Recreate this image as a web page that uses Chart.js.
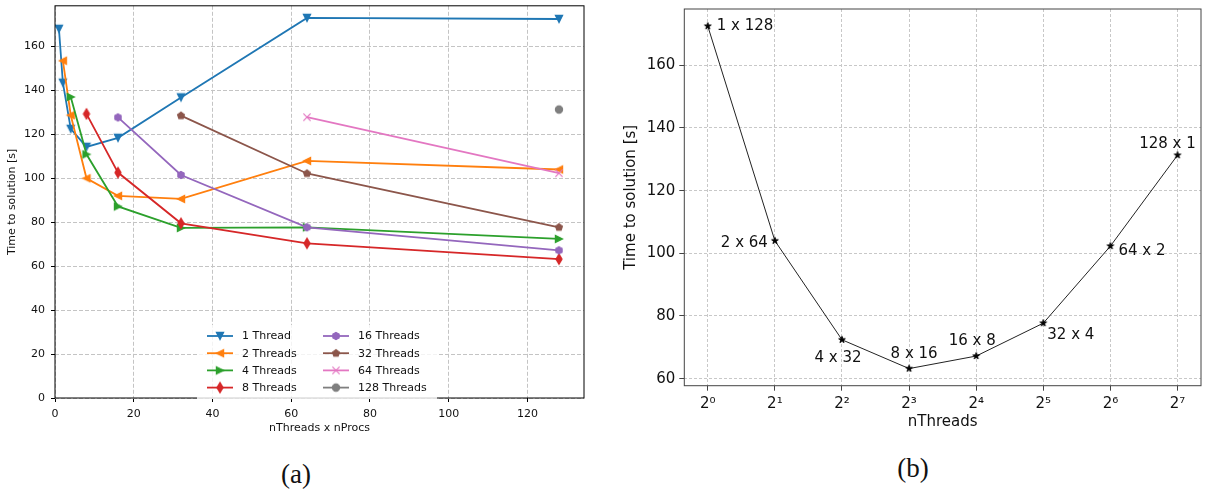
<!DOCTYPE html>
<html>
<head>
<meta charset="utf-8">
<script src="https://cdn.jsdelivr.net/npm/chart.js@4.4.0/dist/chart.umd.min.js"></script>
<style>
  html, body { margin: 0; padding: 0; background: #fff; }
  body { width: 1207px; height: 490px; position: relative; overflow: hidden; }
  #chartA { position: absolute; left: 0; top: 0; }
  #chartB { position: absolute; left: 600px; top: 0; }
  .cap { position: absolute; font-family: "Liberation Serif", serif; font-size: 27px; color: #111;
         transform: translate(-50%, -50%); line-height: 1; }
</style>
</head>
<body>
<canvas id="chartA" width="600" height="445"></canvas>
<canvas id="chartB" width="607" height="445"></canvas>
<div class="cap" style="left:296px; top:474px">(a)</div>
<div class="cap" style="left:913px; top:468px">(b)</div>
<script>
// Temps de calcul selon nThreads x nProcs
const cores = [1, 2, 4, 8, 16, 32, 64, 128];
const threadLabels = ['1 Thread', '2 Threads', '4 Threads', '8 Threads',
                      '16 Threads', '32 Threads', '64 Threads', '128 Threads'];
const time1   = [168, 143.5, 122.5, 114.3, 118.4, 136.8, 173, 172.5];
const time2   = [null, 153.5, 128.7, 100, 92, 90.6, 107.9, 104];
const time4   = [null, null, 137, 110.9, 87.2, 77.4, 77.7, 72.4];
const time8   = [null, null, null, 129.3, 102.6, 79.5, 70.4, 63.2];
const time16  = [null, null, null, null, 127.7, 101.5, 77.7, 67.2];
const time32  = [null, null, null, null, null, 128.5, 102.2, 77.7];
const time64  = [null, null, null, null, null, null, 127.8, 102.3];
const time128 = [null, null, null, null, null, null, null, 131.3];
const xTicksA = [0, 20, 40, 60, 80, 100, 120];
const yTicksA = [0, 20, 40, 60, 80, 100, 120, 140, 160];

// (b) meilleur temps par nombre de threads
const threadCounts = [1, 2, 4, 8, 16, 32, 64, 128];
const bestTimes = [172.5, 104, 72.4, 63.2, 67.2, 77.7, 102.3, 131.3];
const runLabels = ['1 x 128', '2 x 64', '4 x 32', '8 x 16', '16 x 8', '32 x 4', '64 x 2', '128 x 1'];
const xTickLabelsB = ['2\u2070', '2\u00b9', '2\u00b2', '2\u00b3', '2\u2074', '2\u2075', '2\u2076', '2\u2077'];
const yTicksB = [60, 80, 100, 120, 140, 160];

const seriesA = [time1, time2, time4, time8, time16, time32, time64, time128];
const colors = ['#1f77b4', '#ff7f0e', '#2ca02c', '#d62728', '#9467bd', '#8c564b', '#e377c2', '#7f7f7f'];
const markerKinds = ['v', '<', '>', 'd', 'h', 'p', 'x', 'o'];

Chart.defaults.font.family = '"DejaVu Sans", sans-serif';
Chart.defaults.color = '#111';

function polygon(n, r) {
  const pts = [];
  for (let i = 0; i < n; i++) {
    const a = -Math.PI / 2 + i * 2 * Math.PI / n;
    pts.push([r * Math.cos(a), r * Math.sin(a)]);
  }
  return pts;
}

function starPts(r) {
  const pts = [];
  for (let i = 0; i < 10; i++) {
    const a = -Math.PI / 2 + i * Math.PI / 5;
    const rr = i % 2 ? r * 0.381966 : r;
    pts.push([rr * Math.cos(a), rr * Math.sin(a)]);
  }
  return pts;
}

// petits marqueurs façon matplotlib
function makeMarker(kind, color, ms, ew) {
  const size = 2 * Math.ceil(ms + ew + 1);
  const c = document.createElement('canvas');
  c.width = size; c.height = size;
  const g = c.getContext('2d');
  g.translate(size / 2, size / 2);
  g.fillStyle = color; g.strokeStyle = color; g.lineWidth = ew;
  const h = ms / 2;
  let pts = null;
  if (kind === 'v') pts = [[0, h], [-h, -h], [h, -h]];
  else if (kind === '<') pts = [[-h, 0], [h, -h], [h, h]];
  else if (kind === '>') pts = [[h, 0], [-h, -h], [-h, h]];
  else if (kind === 'd') { const r = ms * Math.SQRT1_2; pts = [[0, -r], [0.6 * r, 0], [0, r], [-0.6 * r, 0]]; }
  else if (kind === 'h') pts = polygon(6, h);
  else if (kind === 'p') pts = polygon(5, h);
  else if (kind === '*') pts = starPts(h);
  if (pts) {
    g.beginPath();
    pts.forEach((p, i) => i ? g.lineTo(p[0], p[1]) : g.moveTo(p[0], p[1]));
    g.closePath();
    g.fill(); g.stroke();
  } else if (kind === 'o') {
    g.beginPath(); g.arc(0, 0, h, 0, 2 * Math.PI); g.fill(); g.stroke();
  } else if (kind === 'x') {
    g.beginPath();
    g.moveTo(-h, -h); g.lineTo(h, h);
    g.moveTo(-h, h); g.lineTo(h, -h);
    g.stroke();
  }
  return c;
}

const markersA = markerKinds.map((k, i) => makeMarker(k, colors[i], 7.2, 1.2));

const framePlugin = {
  id: 'frame',
  afterDraw(chart, args, opts) {
    const { left, top, right, bottom } = chart.chartArea;
    const ctx = chart.ctx;
    ctx.save();
    ctx.strokeStyle = opts.color;
    ctx.lineWidth = opts.width;
    ctx.strokeRect(left, top, right - left, bottom - top);
    ctx.restore();
  }
};

const legendA = {
  id: 'legendA',
  afterDraw(chart) {
    const ctx = chart.ctx;
    ctx.save();
    ctx.fillStyle = 'rgba(255,255,255,0.8)';
    ctx.fillRect(197, 325, 240, 74);
    ctx.font = '11px "DejaVu Sans"';
    ctx.textBaseline = 'middle';
    chart.data.datasets.forEach((ds, k) => {
      const col = Math.floor(k / 4), row = k % 4;
      const x0 = col ? 323 : 207;
      const y = 336 + row * 17.2;
      ctx.strokeStyle = ds.borderColor;
      ctx.lineWidth = ds.borderWidth;
      ctx.beginPath(); ctx.moveTo(x0, y); ctx.lineTo(x0 + 26, y); ctx.stroke();
      const m = ds.pointStyle;
      ctx.drawImage(m, x0 + 13 - m.width / 2, y - m.height / 2);
      ctx.fillStyle = '#111';
      ctx.fillText(ds.label, x0 + 35, y + 0.5);
    });
    ctx.restore();
  }
};

// pas de marge automatique autour des axes
function fixY(w) {
  return s => { s.width = w; s.paddingTop = 0; s.paddingBottom = 0; };
}
function fixX(h) {
  return s => { s.height = h; s.paddingLeft = 0; s.paddingRight = 0; };
}

const gridA = { color: '#c4c4c4', tickColor: '#000', tickLength: 4, tickWidth: 1 };

new Chart(document.getElementById('chartA'), {
  type: 'line',
  data: {
    datasets: threadLabels.map((label, k) => ({
      label: label,
      data: cores.map((x, i) => ({ x: x, y: seriesA[k][i] })).filter(p => p.y !== null),
      borderColor: colors[k],
      backgroundColor: colors[k],
      borderWidth: 1.8,
      pointStyle: markersA[k],
      pointRadius: 4,
      tension: 0,
      order: 7 - k
    }))
  },
  options: {
    responsive: false,
    animation: false,
    events: [],
    layout: { padding: { top: 4, right: 16, left: 0, bottom: 0 } },
    plugins: { legend: { display: false }, tooltip: { enabled: false }, frame: { color: '#000', width: 1 } },
    scales: {
      x: {
        type: 'linear', min: 0, max: 134.35,
        afterBuildTicks: s => { s.ticks = xTicksA.map(v => ({ value: v })); },
        afterFit: fixX(47),
        ticks: { font: { size: 11 }, color: '#111', padding: 6, maxRotation: 0, autoSkip: false },
        grid: gridA,
        border: { display: false, dash: [4, 2] },
        title: { display: true, text: 'nThreads x nProcs', font: { size: 11 }, color: '#111', padding: { bottom: 10 } }
      },
      y: {
        type: 'linear', min: 0, max: 178.5,
        afterBuildTicks: s => { s.ticks = yTicksA.map(v => ({ value: v })); },
        afterFit: fixY(55),
        ticks: { font: { size: 11 }, color: '#111', padding: 6 },
        grid: gridA,
        border: { display: false, dash: [4, 2] },
        title: { display: true, text: 'Time to solution [s]', font: { size: 11 }, color: '#111', padding: { top: 6 } }
      }
    }
  },
  plugins: [framePlugin, legendA]
});

// (b)
const labelPlacement = [
  { dx: 9, dy: -2, align: 'left' },
  { dx: -7, dy: 1, align: 'right' },
  { dx: -4, dy: 17, align: 'center' },
  { dx: 5, dy: -16, align: 'center' },
  { dx: -4, dy: -17, align: 'center' },
  { dx: 4, dy: 10, align: 'left' },
  { dx: 8, dy: 3, align: 'left' },
  { dx: -10, dy: -13, align: 'center' }
];

const runLabelPlugin = {
  id: 'runLabels',
  afterDatasetsDraw(chart) {
    const ctx = chart.ctx;
    const pts = chart.getDatasetMeta(0).data;
    ctx.save();
    ctx.font = '15px "DejaVu Sans"';
    ctx.fillStyle = '#111';
    ctx.textBaseline = 'alphabetic';
    pts.forEach((p, i) => {
      const lp = labelPlacement[i];
      ctx.textAlign = lp.align;
      ctx.fillText(runLabels[i], p.x + lp.dx, p.y + lp.dy + 5.5);
    });
    ctx.restore();
  }
};

const gridB = { color: '#c8c8c8', tickColor: '#444', tickLength: 5, tickWidth: 1 };

new Chart(document.getElementById('chartB'), {
  type: 'line',
  data: {
    datasets: [{
      label: 'best',
      data: threadCounts.map((x, i) => ({ x: x, y: bestTimes[i] })),
      borderColor: '#222',
      backgroundColor: '#000',
      borderWidth: 1,
      pointStyle: makeMarker('*', '#000', 7, 1),
      pointRadius: 4,
      tension: 0
    }]
  },
  options: {
    responsive: false,
    animation: false,
    events: [],
    layout: { padding: { top: 9, right: 6, left: 0, bottom: 0 } },
    plugins: { legend: { display: false }, tooltip: { enabled: false }, frame: { color: '#444', width: 1 } },
    scales: {
      x: {
        type: 'logarithmic', min: Math.pow(2, -0.35), max: Math.pow(2, 7.35),
        afterBuildTicks: s => { s.ticks = threadCounts.map(v => ({ value: v })); },
        afterFit: fixX(59.3),
        ticks: { font: { size: 15 }, color: '#111', padding: 4, maxRotation: 0, autoSkip: false,
                 callback: (v, i) => xTickLabelsB[i] },
        grid: gridB,
        border: { display: false, dash: [3, 2] },
        title: { display: true, text: 'nThreads', font: { size: 15 }, color: '#111', padding: { bottom: 14 } }
      },
      y: {
        type: 'linear', min: 57.74, max: 177.97,
        afterBuildTicks: s => { s.ticks = yTicksB.map(v => ({ value: v })); },
        afterFit: fixY(84.3),
        ticks: { font: { size: 15 }, color: '#111', padding: 4 },
        grid: gridB,
        border: { display: false, dash: [3, 2] },
        title: { display: true, text: 'Time to solution [s]', font: { size: 15 }, color: '#111', padding: { top: 22 } }
      }
    }
  },
  plugins: [framePlugin, runLabelPlugin]
});
</script>
</body>
</html>
